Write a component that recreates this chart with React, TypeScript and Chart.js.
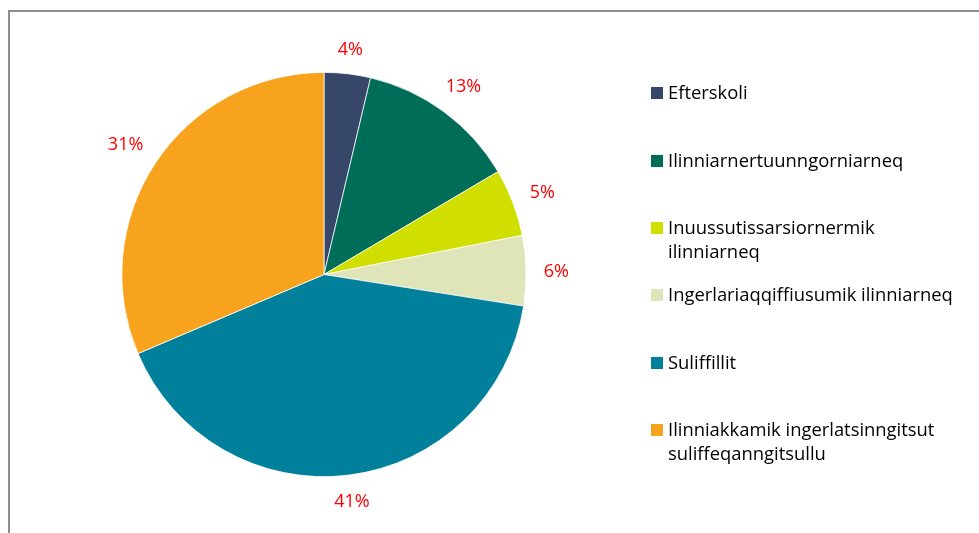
import React, { useEffect, useRef } from "react";
import { Chart, registerables } from "chart.js";

Chart.register(...registerables);

const legendLines: string[][] = [
  ["Efterskoli"],
  ["Ilinniarnertuunngorniarneq"],
  ["Inuussutissarsiornermik", "ilinniarneq"],
  ["Ingerlariaqqiffiusumik ilinniarneq"],
  ["Suliffillit"],
  ["Ilinniakkamik ingerlatsinngitsut", "suliffeqanngitsullu"],
];
const categories = legendLines.map((l) => l.join(" "));
const shares = [3.7, 12.8, 5.4, 5.6, 41.1, 31.4];
const sliceColors = ["#37476A", "#006D59", "#D0DF00", "#E0E4B9", "#00809B", "#F8A31E"];

const FONT = "'Open Sans', sans-serif";

const labelPlugin = {
  id: "outerLabels",
  afterDraw(chart: any) {
    const ctx = chart.ctx;
    const meta = chart.getDatasetMeta(0);
    ctx.save();
    ctx.font = `18px ${FONT}`;
    ctx.fillStyle = "#FF0000";
    ctx.textAlign = "center";
    ctx.textBaseline = "alphabetic";
    meta.data.forEach((arc: any, i: number) => {
      const p = arc.getProps(["x", "y", "startAngle", "endAngle", "outerRadius"], true);
      const mid = (p.startAngle + p.endAngle) / 2;
      const text = Math.round(shares[i]) + "%";
      const w = ctx.measureText(text).width;
      const h = 12.5;
      const c = Math.cos(mid);
      const s = Math.sin(mid);
      const d = 17.5 + Math.abs(c) * (w / 2) + Math.abs(s) * (h / 2);
      const x = p.x + c * (p.outerRadius + d);
      const y = p.y + s * (p.outerRadius + d);
      ctx.fillText(text, x, y + 6.4);
    });
    ctx.restore();
  },
};

export default function App() {
  const ref = useRef<HTMLCanvasElement>(null);
  useEffect(() => {
    if (!ref.current) return;
    const chart = new Chart(ref.current, {
      type: "pie",
      data: {
        labels: categories,
        datasets: [
          {
            data: shares,
            backgroundColor: sliceColors,
            borderColor: "#ffffff",
            borderWidth: 0.75,
          },
        ],
      },
      options: {
        animation: false,
        responsive: false,
        maintainAspectRatio: false,
        layout: { padding: { left: 121, right: 452, top: 72, bottom: 56 } },
        plugins: {
          legend: { display: false },
          tooltip: { enabled: false },
        },
      },
      plugins: [labelPlugin],
    });
    return () => chart.destroy();
  }, []);

  return (
    <div>
      <div
        style={{
          position: "fixed",
          left: 8,
          top: 10,
          right: -10,
          bottom: -10,
          borderLeft: "2px solid #8E8E8E",
          borderTop: "2px solid #8E8E8E",
          background: "#fff",
        }}
      />
      <canvas
        ref={ref}
        width={979}
        height={533}
        style={{ position: "fixed", left: 0, top: 0, width: 979, height: 533 }}
      />
      {legendLines.map((lines, i) => (
        <div
          key={i}
          style={{
            position: "fixed",
            left: 651,
            top: 80.2 + i * 67.4,
            fontFamily: FONT,
            fontSize: 18.4,
            lineHeight: "24px",
            color: "#000",
            whiteSpace: "nowrap",
          }}
        >
          <span
            style={{
              position: "absolute",
              left: 0,
              top: 7,
              width: 12,
              height: 12,
              background: sliceColors[i],
            }}
          />
          <div style={{ marginLeft: 17 }}>
            {lines.map((t, j) => (
              <div key={j}>{t}</div>
            ))}
          </div>
        </div>
      ))}
    </div>
  );
}
